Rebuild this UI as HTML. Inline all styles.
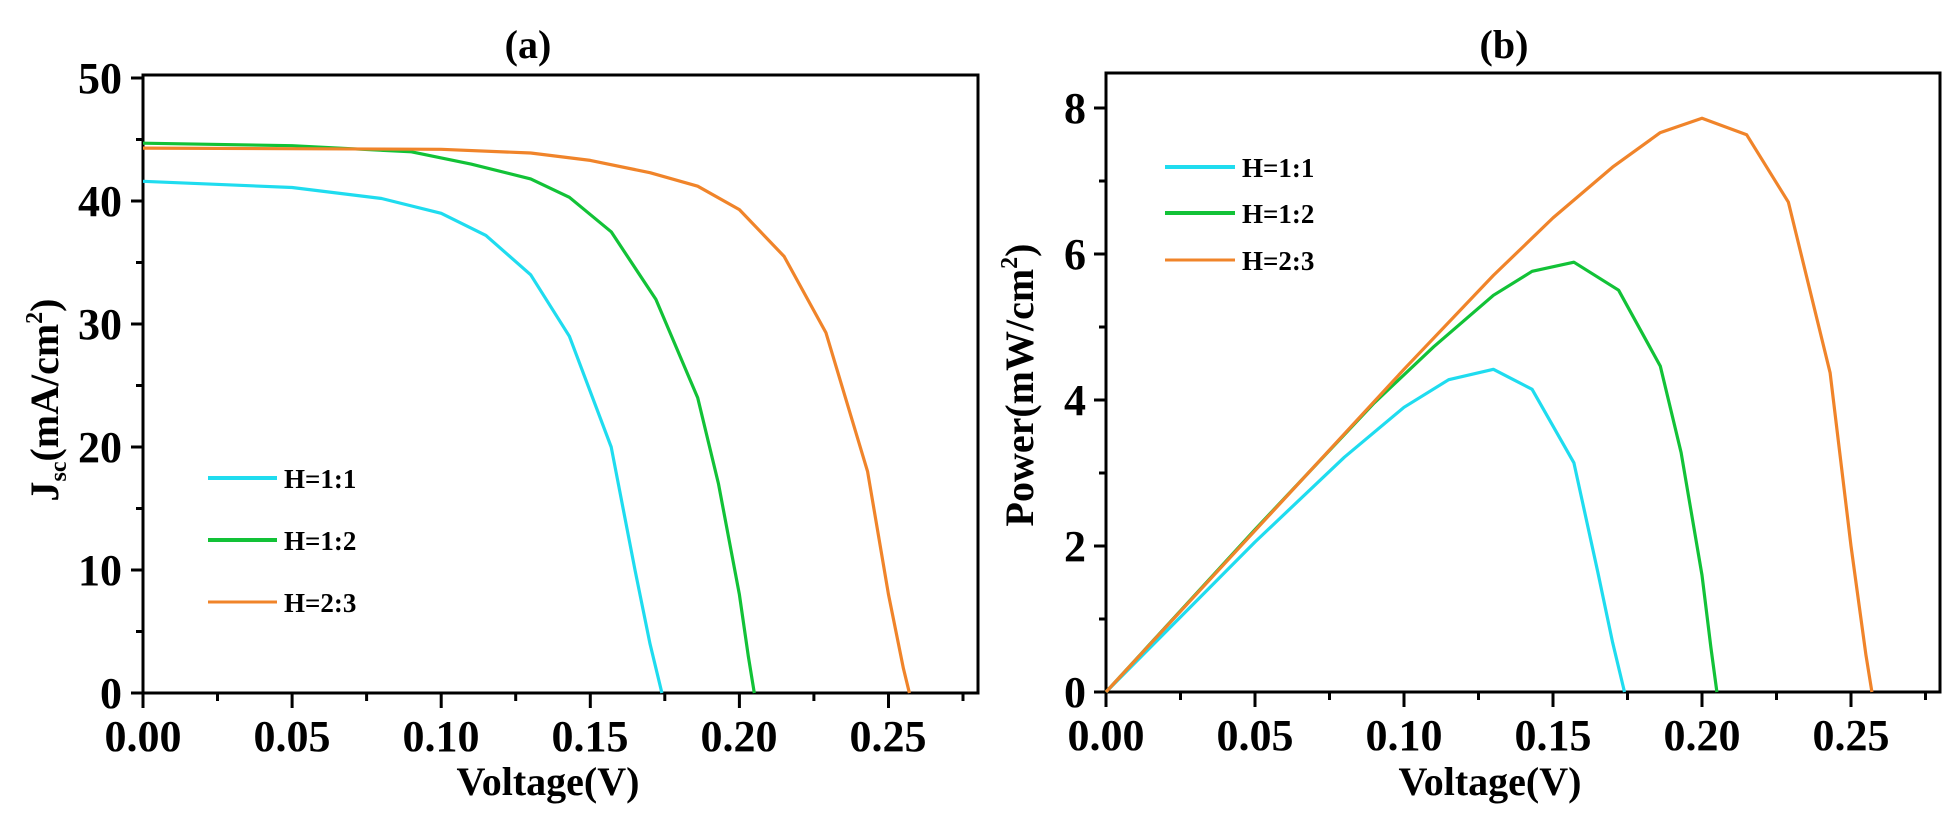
<!DOCTYPE html>
<html><head><meta charset="utf-8"><style>
html,body{margin:0;padding:0;background:#fff;}
svg{display:block;}
text{font-family:"Liberation Serif",serif;font-weight:bold;fill:#000;}
</style></head><body>
<svg width="1953" height="826" viewBox="0 0 1953 826" xmlns="http://www.w3.org/2000/svg">
<!-- Panel A -->
<text x="528" y="58" font-size="40" text-anchor="middle">(a)</text>
<g stroke="#000" stroke-width="3" fill="none">
<rect x="143" y="75" width="835" height="618"/>
<path d="M143 693v15M292.1 693v15M441.2 693v15M590.3 693v15M739.4 693v15M888.5 693v15
M217.5 693v8M366.6 693v8M515.7 693v8M664.8 693v8M813.9 693v8M963 693v8
M143 693h-12M143 570h-12M143 447h-12M143 324h-12M143 201h-12M143 78h-12
M143 631.5h-7M143 508.5h-7M143 385.5h-7M143 262.5h-7M143 139.5h-7"/>
</g>
<g font-size="44" text-anchor="middle">
<text x="143" y="751">0.00</text><text x="292" y="751">0.05</text><text x="441" y="751">0.10</text>
<text x="590" y="751">0.15</text><text x="739" y="751">0.20</text><text x="888" y="751">0.25</text>
</g>
<g font-size="44" text-anchor="end">
<text x="122" y="708">0</text><text x="122" y="585">10</text><text x="122" y="462">20</text>
<text x="122" y="339">30</text><text x="122" y="216">40</text><text x="122" y="93">50</text>
</g>
<text x="548" y="795" font-size="40" text-anchor="middle">Voltage(V)</text>
<text transform="translate(58,400) rotate(-90)" font-size="40" text-anchor="middle">J<tspan font-size="24" dy="8">sc</tspan><tspan dy="-8">(mA/cm</tspan><tspan font-size="24" dy="-16">2</tspan><tspan dy="16">)</tspan></text>
<g fill="none" stroke-width="3.2" stroke-linejoin="round">
<polyline stroke="#1fdcef" points="143,181.3 292.1,187.5 381.6,198.5 441.2,213.3 485.9,235.4 530.7,274.8 569.4,336.3 611.2,447 635,570 650,643.8 661.9,693"/>
<polyline stroke="#12c237" points="143,143.2 292.1,145.7 411.4,151.8 471,164.1 530.7,178.9 569.4,197.3 611.2,231.8 655.9,299.4 697.7,397.8 718.5,483.9 739.4,594.6 748.3,656.1 754.3,693"/>
<polyline stroke="#f0842a" points="143,148.1 441.2,149.3 530.7,153 590.3,160.4 650,172.7 697.7,186.2 739.4,209.6 784.1,256.4 825.9,332.6 867.6,471.6 888.5,594.6 903.4,668.4 909.4,693"/>
</g>
<g stroke-width="4"><line x1="208" y1="478" x2="277" y2="478" stroke="#1fdcef"/>
<line x1="208" y1="540" x2="277" y2="540" stroke="#12c237"/>
<line x1="208" y1="602" x2="277" y2="602" stroke="#f0842a" stroke-width="3"/></g>
<g font-size="27"><text x="284" y="488">H=1:1</text><text x="284" y="550">H=1:2</text><text x="284" y="612">H=2:3</text></g>

<!-- Panel B -->
<text x="1504" y="58" font-size="40" text-anchor="middle">(b)</text>
<g stroke="#000" stroke-width="3" fill="none">
<rect x="1106" y="73" width="834" height="619"/>
<path d="M1106 692v15M1255 692v15M1404 692v15M1553 692v15M1702 692v15M1851 692v15
M1180.5 692v8M1329.5 692v8M1478.5 692v8M1627.5 692v8M1776.5 692v8M1925.5 692v8
M1106 692h-12M1106 546h-12M1106 400h-12M1106 254h-12M1106 108h-12
M1106 619h-7M1106 473h-7M1106 327h-7M1106 181h-7"/>
</g>
<g font-size="44" text-anchor="middle">
<text x="1106" y="750">0.00</text><text x="1255" y="750">0.05</text><text x="1404" y="750">0.10</text>
<text x="1553" y="750">0.15</text><text x="1702" y="750">0.20</text><text x="1851" y="750">0.25</text>
</g>
<g font-size="44" text-anchor="end">
<text x="1086" y="707">0</text><text x="1086" y="561">2</text><text x="1086" y="415">4</text>
<text x="1086" y="269">6</text><text x="1086" y="123">8</text>
</g>
<text x="1490" y="795" font-size="40" text-anchor="middle">Voltage(V)</text>
<text transform="translate(1033,385) rotate(-90)" font-size="40" text-anchor="middle">Power(mW/cm<tspan font-size="24" dy="-16">2</tspan><tspan dy="16">)</tspan></text>
<g fill="none" stroke-width="3.2" stroke-linejoin="round">
<polyline stroke="#1fdcef" points="1106,692 1255,542 1344.4,457.2 1404,407.3 1448.7,379.7 1493.4,369.3 1532.1,389.3 1573.9,462.8 1597.7,571.6 1612.6,642.4 1624.5,692"/>
<polyline stroke="#12c237" points="1106,692 1255,529.6 1374.2,402.9 1433.8,346.7 1493.4,295.3 1532.1,271.3 1573.9,262.2 1618.6,290.2 1660.3,366.1 1681.1,452.5 1702,575.2 1710.9,647.5 1716.9,692"/>
<polyline stroke="#f0842a" points="1106,692 1404,369.3 1493.4,275.4 1553,217.9 1612.6,167.1 1660.3,132.6 1702,118.2 1746.7,134.8 1788.4,202.2 1830.1,372.7 1851,546 1865.9,654.8 1871.9,692"/>
</g>
<g stroke-width="4"><line x1="1165" y1="167" x2="1235" y2="167" stroke="#1fdcef"/>
<line x1="1165" y1="213" x2="1235" y2="213" stroke="#12c237"/>
<line x1="1165" y1="260" x2="1235" y2="260" stroke="#f0842a" stroke-width="3"/></g>
<g font-size="27"><text x="1242" y="177">H=1:1</text><text x="1242" y="223">H=1:2</text><text x="1242" y="270">H=2:3</text></g>
</svg>
</body></html>
